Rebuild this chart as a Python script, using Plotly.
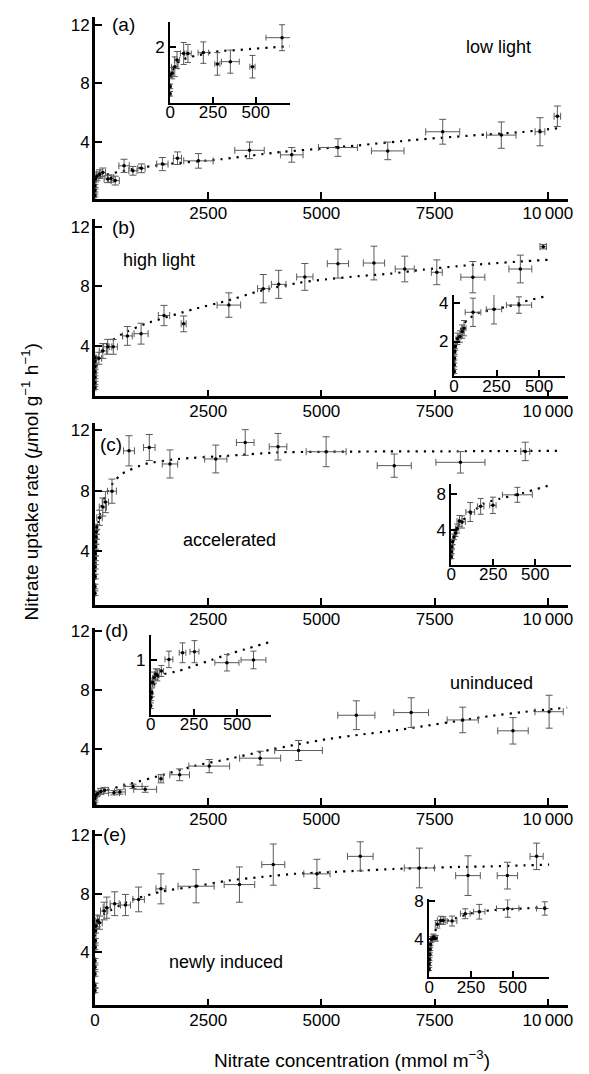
import plotly.graph_objects as go

W, H = 589, 1074
FONT = "Liberation Sans, Arial, Helvetica, sans-serif"

# ---------------- data ----------------
# (a) low light
a_x = [0, 0, 0, 10, 43, 100, 174, 282, 354, 448, 643, 838, 1027, 1489, 1822, 2285, 3413, 4345, 5365, 6464, 7678, 8972, 9826, 10209]
a_y = [0.34, 0.68, 1.0, 1.47, 1.65, 1.8, 1.92, 1.47, 1.5, 1.36, 2.37, 2.03, 2.2, 2.49, 2.89, 2.71, 3.43, 3.12, 3.62, 3.39, 4.7, 4.47, 4.7, 5.76]
a_xerr = [20, 20, 20, 20, 40, 60, 60, 80, 60, 90, 115, 90, 80, 125, 90, 325, 325, 250, 430, 360, 375, 325, 108, 72]
a_yerr = [0.1, 0.1, 0.1, 0.2, 0.3, 0.3, 0.3, 0.25, 0.25, 0.3, 0.45, 0.3, 0.3, 0.45, 0.43, 0.5, 0.57, 0.5, 0.6, 0.6, 0.85, 0.9, 0.96, 0.7]
a_fx = [0, 15, 200, 750, 1475, 2776, 4005, 5813, 7042, 8343, 9428, 10296]
a_fy = [1.2, 1.5, 1.72, 2.1, 2.45, 2.82, 3.28, 3.77, 4.14, 4.45, 4.68, 4.97]
ai_x = [0, 0, 0, 12, 27, 40, 79, 104, 194, 276, 352, 481, 654]
ai_y = [0.33, 0.59, 1.0, 1.06, 1.29, 1.53, 1.76, 1.76, 1.79, 1.39, 1.47, 1.29, 2.32]
ai_xerr = [4, 4, 4, 6, 19, 15, 19, 19, 31, 15, 52, 15, 94]
ai_yerr = [0.08, 0.08, 0.1, 0.2, 0.35, 0.3, 0.39, 0.32, 0.38, 0.4, 0.41, 0.4, 0.46]
ai_fx = [0, 12, 50, 107, 165, 241, 299, 395, 471, 586, 701]
ai_fy = [0.6, 1.1, 1.47, 1.62, 1.7, 1.8, 1.85, 1.88, 1.92, 1.97, 2.02]

# (b) high light
b_x = [0, 0, 0, 0, 0, 0, 0, 87, 174, 282, 405, 716, 1019, 1525, 1959, 2957, 3716, 4056, 4634, 5365, 6160, 6840, 7548, 8343, 9392, 9898]
b_y = [1.19, 1.52, 1.89, 2.29, 2.62, 2.95, 3.2, 3.17, 3.66, 3.94, 3.94, 4.67, 4.82, 6.04, 5.48, 6.74, 7.84, 8.13, 8.63, 9.52, 9.56, 9.16, 8.94, 8.61, 9.16, 10.66]
b_xerr = [20, 20, 20, 20, 20, 20, 20, 60, 80, 90, 90, 108, 155, 125, 55, 260, 126, 160, 180, 235, 235, 210, 120, 265, 253, 72]
b_yerr = [0.1, 0.1, 0.1, 0.1, 0.1, 0.1, 0.1, 0.4, 0.5, 0.5, 0.5, 0.63, 0.7, 0.68, 0.53, 0.82, 0.95, 0.94, 0.9, 0.97, 1.13, 0.86, 0.83, 1.05, 0.93, 0.15]
b_fx = [0, 30, 100, 246, 600, 1113, 2198, 2921, 3644, 4512, 5090, 5813, 6536, 7259, 7982, 8705, 9428, 10006]
b_fy = [1.5, 2.6, 3.3, 4.05, 4.8, 5.48, 6.48, 7.03, 7.69, 8.24, 8.46, 8.68, 8.85, 9.12, 9.34, 9.52, 9.67, 9.78]
bi_x = [2, 2, 3, 5, 8, 20, 35, 49, 59, 112, 235, 382]
bi_y = [0.43, 0.78, 1.13, 1.48, 1.74, 2.14, 2.26, 2.52, 2.7, 3.53, 3.69, 3.91]
bi_xerr = [3, 3, 3, 3, 4, 8, 10, 10, 12, 46, 45, 74]
bi_yerr = [0.1, 0.1, 0.1, 0.15, 0.2, 0.3, 0.3, 0.35, 0.4, 0.74, 0.77, 0.43]
bi_fx = [0, 5, 20, 50, 78, 137, 216, 314, 412, 529]
bi_fy = [0.5, 1.3, 2.1, 2.8, 3.13, 3.48, 3.65, 3.83, 4.09, 4.35]

# (c) accelerated
c_x = [0, 0, 5, 5, 10, 10, 15, 20, 25, 30, 40, 101, 174, 231, 376, 752, 1200, 1656, 2668, 3318, 4042, 5104, 6608, 8069, 9500]
c_y = [1.21, 1.65, 2.31, 2.96, 3.51, 3.84, 4.28, 4.61, 4.94, 5.26, 5.59, 6.2, 6.91, 7.24, 7.96, 10.63, 10.85, 9.76, 10.09, 11.18, 10.9, 10.57, 9.65, 9.87, 10.59]
c_xerr = [15, 15, 15, 15, 15, 15, 15, 15, 15, 15, 15, 60, 80, 70, 98, 120, 127, 170, 246, 195, 195, 441, 376, 542, 98]
c_yerr = [0.15, 0.15, 0.15, 0.15, 0.15, 0.15, 0.15, 0.15, 0.15, 0.15, 0.15, 0.5, 0.6, 0.7, 0.8, 1.0, 0.86, 0.93, 0.92, 0.85, 0.88, 0.99, 0.77, 0.71, 0.61]
c_fx = [0, 30, 80, 150, 250, 400, 592, 1113, 1836, 2921, 4005, 5104, 6500, 8000, 9500, 10300]
c_fy = [1.5, 4.5, 6.0, 7.0, 7.8, 8.5, 9.1, 9.76, 10.09, 10.3, 10.52, 10.57, 10.59, 10.6, 10.62, 10.63]
ci_x = [0, 2, 4, 8, 16, 25, 35, 49, 64, 113, 175, 248, 394]
ci_y = [1.09, 1.64, 2.18, 2.73, 3.27, 3.71, 4.18, 5.02, 4.91, 6.0, 6.62, 6.73, 7.89]
ci_xerr = [3, 3, 3, 4, 5, 8, 10, 15, 20, 26, 19, 19, 89]
ci_yerr = [0.2, 0.2, 0.2, 0.3, 0.3, 0.4, 0.5, 0.6, 0.67, 1.04, 0.87, 0.9, 0.82]
ci_fx = [0, 10, 30, 60, 93, 190, 287, 423, 598]
ci_fy = [1.0, 2.6, 4.0, 5.0, 5.45, 6.9, 7.45, 8.07, 9.0]

# (d) uninduced
d_x = [0, 0, 20, 58, 130, 217, 420, 551, 841, 1109, 1457, 1870, 2523, 3647, 4495, 5771, 6982, 8120, 9229, 10027]
d_y = [0.28, 0.62, 0.84, 0.96, 1.11, 1.18, 1.02, 1.07, 1.45, 1.25, 1.97, 2.24, 2.83, 3.37, 3.89, 6.29, 6.47, 5.97, 5.23, 6.53]
d_xerr = [20, 20, 30, 40, 60, 80, 120, 120, 200, 253, 50, 217, 450, 453, 526, 410, 384, 344, 337, 312]
d_yerr = [0.1, 0.1, 0.1, 0.15, 0.2, 0.2, 0.15, 0.15, 0.15, 0.2, 0.28, 0.4, 0.45, 0.47, 0.68, 0.98, 1.01, 0.87, 0.9, 1.12]
d_fx = [0, 58, 783, 1508, 2233, 2958, 3682, 4407, 5133, 5858, 6582, 7307, 8032, 8757, 9482, 10425]
d_fy = [0.6, 0.96, 1.63, 2.24, 2.87, 3.32, 3.82, 4.27, 4.67, 4.97, 5.24, 5.57, 5.91, 6.25, 6.52, 6.81]
di_x = [0, 2, 6, 10, 19, 29, 38, 61, 105, 184, 253, 441, 595]
di_y = [0.17, 0.32, 0.41, 0.59, 0.68, 0.74, 0.72, 0.8, 1.01, 1.13, 1.15, 0.95, 1.0]
di_xerr = [3, 3, 4, 5, 8, 8, 10, 12, 23, 19, 26, 70, 72]
di_yerr = [0.05, 0.06, 0.08, 0.08, 0.1, 0.1, 0.1, 0.1, 0.15, 0.18, 0.2, 0.15, 0.16]
di_fx = [0, 10, 48, 162, 257, 352, 447, 542, 694]
di_fy = [0.25, 0.47, 0.71, 0.8, 0.9, 1.0, 1.1, 1.19, 1.33]

# (e) newly induced
e_x = [0, 0, 0, 0, 0, 5, 10, 15, 20, 58, 101, 203, 261, 435, 674, 964, 1457, 2233, 3190, 3937, 4901, 5858, 7163, 8236, 9106, 9751]
e_y = [1.41, 1.75, 2.53, 2.98, 3.43, 4.34, 4.79, 5.46, 5.8, 6.14, 6.02, 6.81, 7.04, 7.31, 7.22, 7.6, 8.32, 8.5, 8.61, 9.97, 9.34, 10.53, 9.74, 9.22, 9.22, 10.53]
e_xerr = [15, 15, 15, 15, 15, 15, 15, 15, 15, 40, 60, 80, 80, 100, 110, 127, 110, 399, 337, 254, 290, 283, 333, 272, 225, 145]
e_yerr = [0.15, 0.15, 0.15, 0.15, 0.15, 0.15, 0.15, 0.15, 0.15, 0.4, 0.45, 0.6, 0.72, 0.81, 0.72, 0.84, 1.02, 1.13, 1.2, 1.4, 0.99, 0.99, 1.35, 1.35, 0.91, 0.9]
e_fx = [0, 20, 58, 203, 783, 1508, 2233, 2958, 3683, 4408, 5133, 5858, 6583, 7308, 8033, 8758, 9483, 10027]
e_fy = [4.5, 5.7, 6.14, 6.6, 7.53, 8.16, 8.5, 8.89, 9.13, 9.34, 9.45, 9.56, 9.67, 9.74, 9.81, 9.85, 9.92, 9.97]
ei_x = [0, 0, 2, 4, 6, 8, 14, 25, 39, 49, 69, 84, 137, 216, 300, 470, 692]
ei_y = [0.87, 1.39, 1.91, 2.43, 2.96, 3.48, 4.0, 4.24, 4.1, 5.57, 5.98, 5.98, 5.91, 6.68, 6.89, 7.23, 7.23]
ei_xerr = [3, 3, 3, 3, 4, 4, 6, 8, 10, 12, 20, 15, 29, 29, 34, 67, 49]
ei_yerr = [0.15, 0.15, 0.15, 0.15, 0.15, 0.15, 0.3, 0.3, 0.3, 0.4, 0.43, 0.4, 0.52, 0.52, 0.77, 0.92, 0.7]
ei_fx = [0, 10, 30, 59, 167, 265, 363, 559, 715]
ei_fy = [1.5, 3.5, 4.6, 5.57, 6.26, 6.78, 7.03, 7.23, 7.37]

main_xticks = [2500, 5000, 7500, 10000]
main_xlabels = ["2500", "5000", "7500", "10\u2009000"]
main_yticks = [4, 8, 12]
inset_xticks = [0, 250, 500]
inset_xlabels = ["0", "250", "500"]

panel_tags = ["(a)", "(b)", "(c)", "(d)", "(e)"]
panel_names = ["low light", "high light", "accelerated", "uninduced", "newly induced"]

# ---------------- layout geometry (pixels) ----------------
MX0, MX1 = 91.5, 573.0
MAIN_XR = [0, 10450]
main_geo = [
    (10, 193, [0.12, 12.55]),
    (213, 392, [0.61, 12.54]),
    (418.3, 601.7, [0.44, 12.5]),
    (625, 803, [0.2, 12.23]),
    (828, 1005, [0.39, 12.35]),
]
inset_geo = [
    (168, 290, 701, 15, 96.7, [0, 2.88], [2]),
    (456.7, 570, 654, 290, 371.7, [0.18, 4.43], [2, 4]),
    (454, 576, 715, 480, 561.7, [0.18, 9.09], [4, 8]),
    (148.3, 270.7, 697, 631.7, 712.7, [0, 1.46], [1]),
    (431.5, 553, 715, 898.3, 976.7, [0, 8.18], [4, 8]),
]

main_sets = [
    (a_x, a_y, a_xerr, a_yerr, a_fx, a_fy),
    (b_x, b_y, b_xerr, b_yerr, b_fx, b_fy),
    (c_x, c_y, c_xerr, c_yerr, c_fx, c_fy),
    (d_x, d_y, d_xerr, d_yerr, d_fx, d_fy),
    (e_x, e_y, e_xerr, e_yerr, e_fx, e_fy),
]
inset_sets = [
    (ai_x, ai_y, ai_xerr, ai_yerr, ai_fx, ai_fy),
    (bi_x, bi_y, bi_xerr, bi_yerr, bi_fx, bi_fy),
    (ci_x, ci_y, ci_xerr, ci_yerr, ci_fx, ci_fy),
    (di_x, di_y, di_xerr, di_yerr, di_fx, di_fy),
    (ei_x, ei_y, ei_xerr, ei_yerr, ei_fx, ei_fy),
]

def fx(p):
    return p / W

def fy(p):
    return 1 - p / H

fig = go.Figure()
layout = {}
ERRC = "#5a5a5a"

def add_set(n, data, capw):
    xs, ys, xe, ye, fxs, fys = data
    ax = "x" if n == 1 else f"x{n}"
    ay = "y" if n == 1 else f"y{n}"
    fig.add_trace(go.Scatter(
        x=fxs, y=fys, xaxis=ax, yaxis=ay, mode="lines",
        line=dict(color="black", width=2.2, dash="2.2px,6px", shape="spline", smoothing=0.6),
        hoverinfo="skip", showlegend=False, cliponaxis=False))
    fig.add_trace(go.Scatter(
        x=xs, y=ys, xaxis=ax, yaxis=ay, mode="markers",
        marker=dict(color="black", size=3.5),
        error_x=dict(type="data", array=xe, color=ERRC, thickness=1, width=capw),
        error_y=dict(type="data", array=ye, color=ERRC, thickness=1, width=capw),
        showlegend=False, cliponaxis=False))

def axis_common():
    return dict(showline=True, linecolor="black", ticks="inside", tickcolor="black",
                showgrid=False, zeroline=False, mirror=False,
                tickfont=dict(family=FONT, size=17, color="black"), fixedrange=True)

for i in range(5):
    n_main = 2 * i + 1
    n_ins = 2 * i + 2
    top, bot, yr = main_geo[i]
    add_set(n_main, main_sets[i], 3.5)
    x0, x1, xmax, itop, ibot, iyr, iyt = inset_geo[i]
    add_set(n_ins, inset_sets[i], 3)

    xk = "xaxis" if n_main == 1 else f"xaxis{n_main}"
    yk = "yaxis" if n_main == 1 else f"yaxis{n_main}"
    xa = axis_common()
    if i == 4:
        tv = [0] + main_xticks
        tt = ["0"] + main_xlabels
    else:
        tv = main_xticks
        tt = main_xlabels
    xa.update(domain=[fx(MX0), fx(MX1)], range=MAIN_XR, anchor=f"y{n_main}" if n_main > 1 else "y",
              tickvals=tv, ticktext=tt, linewidth=2.5, ticklen=7, tickwidth=2,
              ticklabelstandoff=-3)
    ya = axis_common()
    ya.update(domain=[fy(bot), fy(top)], range=yr, anchor=f"x{n_main}" if n_main > 1 else "x",
              tickvals=main_yticks, linewidth=2.5, ticklen=7, tickwidth=2,
              ticklabelstandoff=-1)
    layout[xk] = xa
    layout[yk] = ya

    xa2 = axis_common()
    xa2.update(domain=[fx(x0), fx(x1)], range=[0, xmax], anchor=f"y{n_ins}",
               tickvals=inset_xticks, ticktext=inset_xlabels, linewidth=2, ticklen=6, tickwidth=2,
               ticklabelstandoff=-7)
    ya2 = axis_common()
    ya2.update(domain=[fy(ibot), fy(itop)], range=iyr, anchor=f"x{n_ins}",
               tickvals=iyt, linewidth=2, ticklen=6, tickwidth=2, ticklabelstandoff=0)
    layout[f"xaxis{n_ins}"] = xa2
    layout[f"yaxis{n_ins}"] = ya2

annotations = []
tag_pos = [(106.7, 18), (106.7, 221.7), (95, 440), (100, 628), (98, 833)]
for t, (px, py) in zip(panel_tags, tag_pos):
    annotations.append(dict(text=t, x=fx(px), y=fy(py), xref="paper", yref="paper",
                            xanchor="left", yanchor="middle", showarrow=False,
                            font=dict(family=FONT, size=19, color="black")))
name_pos = [(501.7, 40), (156.7, 255), (228.3, 536.7), (495, 680), (225, 961.7)]
for t, (px, py) in zip(panel_names, name_pos):
    annotations.append(dict(text=t, x=fx(px), y=fy(py), xref="paper", yref="paper",
                            xanchor="center", yanchor="middle", showarrow=False,
                            font=dict(family=FONT, size=18, color="black")))
annotations.append(dict(text="Nitrate uptake rate (<i>\u03bc</i>mol g<sup>\u22121</sup> h<sup>\u22121</sup>)",
                        x=fx(25), y=fy(478), xref="paper", yref="paper", textangle=-90,
                        xanchor="center", yanchor="middle", showarrow=False,
                        font=dict(family=FONT, size=19, color="black")))
annotations.append(dict(text="Nitrate concentration (mmol m<sup>\u22123</sup>)",
                        x=fx(353), y=fy(1059), xref="paper", yref="paper",
                        xanchor="center", yanchor="middle", showarrow=False,
                        font=dict(family=FONT, size=19, color="black")))

fig.update_layout(width=W, height=H, autosize=False,
                  margin=dict(l=0, r=0, t=0, b=0, pad=0),
                  paper_bgcolor="white", plot_bgcolor="rgba(0,0,0,0)",
                  showlegend=False, annotations=annotations, **layout)

fig.write_html("out.html", config={"displayModeBar": False},
               post_script="document.body.style.margin='0px';document.body.style.overflow='hidden';")
